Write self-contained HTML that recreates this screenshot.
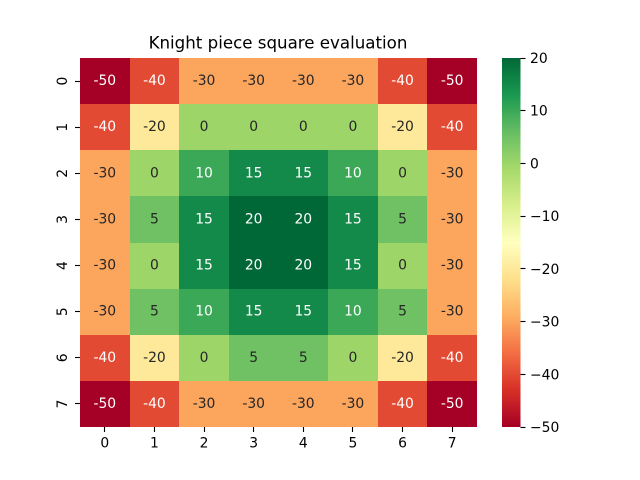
<!DOCTYPE html>
<html>
<head>
<meta charset="utf-8">
<title>Knight piece square evaluation</title>
<style>
html,body{margin:0;padding:0;background:#fff;}
#chart{display:block;font-family:"DejaVu Sans","Liberation Sans",sans-serif;}
text{fill:#000;font-size:13.89px;}
</style>
</head>
<body>
<svg id="chart" xmlns="http://www.w3.org/2000/svg" width="640" height="480" viewBox="0 0 640 480">
  <rect x="0" y="0" width="640" height="480" fill="#ffffff"/>
  <text x="278" y="48.5" text-anchor="middle" style="font-size:16.67px">Knight piece square evaluation</text>
  <defs>
    <linearGradient id="cbGrad" x1="0" y1="1" x2="0" y2="0">
      <stop offset="0" stop-color="#a50026"/><stop offset="0.1" stop-color="#d73027"/>
      <stop offset="0.2" stop-color="#f46d43"/><stop offset="0.3" stop-color="#fdae61"/>
      <stop offset="0.4" stop-color="#fee08b"/><stop offset="0.5" stop-color="#ffffbf"/>
      <stop offset="0.6" stop-color="#d9ef8b"/><stop offset="0.7" stop-color="#a6d96a"/>
      <stop offset="0.8" stop-color="#66bd63"/><stop offset="0.9" stop-color="#1a9850"/>
      <stop offset="1" stop-color="#006837"/>
    </linearGradient>
  </defs>
  <g id="cells"></g>
  <g id="annotations"></g>
  <g id="x-axis"></g>
  <g id="y-axis"></g>
  <rect x="502" y="58" width="18.5" height="369" fill="url(#cbGrad)"/>
  <g id="cb-axis"></g>
</svg>
<script>
const rowLabels = ["0","1","2","3","4","5","6","7"];
const colLabels = ["0","1","2","3","4","5","6","7"];
const values = [
  [-50,-40,-30,-30,-30,-30,-40,-50],
  [-40,-20,0,0,0,0,-20,-40],
  [-30,0,10,15,15,10,0,-30],
  [-30,5,15,20,20,15,5,-30],
  [-30,0,15,20,20,15,0,-30],
  [-30,5,10,15,15,10,5,-30],
  [-40,-20,0,5,5,0,-20,-40],
  [-50,-40,-30,-30,-30,-30,-40,-50]
];
const colorbarTicks = [20,10,0,-10,-20,-30,-40,-50];
const vmin = -50;
const vmax = 20;

const NS = "http://www.w3.org/2000/svg";
const anchors = [[165,0,38],[215,48,39],[244,109,67],[253,174,97],[254,224,139],[255,255,191],[217,239,139],[166,217,106],[102,189,99],[26,152,80],[0,104,55]];
const plot = {left:80,right:477,top:58,bottom:427};
const cbar = {right:520.5,top:58,bottom:427};

function xBand(i){ return plot.left + i*(plot.right-plot.left)/colLabels.length; }
function yBand(i){ return plot.top + i*(plot.bottom-plot.top)/rowLabels.length; }
function cbY(v){ return cbar.bottom - (v-vmin)/(vmax-vmin)*(cbar.bottom-cbar.top); }
function colorOf(v){
  const t = Math.max(0,Math.min(1,(v-vmin)/(vmax-vmin)))*(anchors.length-1);
  const i = Math.min(anchors.length-2,Math.floor(t));
  const f = t-i;
  return anchors[i].map(function(c,k){ return c+(anchors[i+1][k]-c)*f; });
}
function luminance(rgb){
  const l = rgb.map(function(c){ c/=255; return c<=0.03928 ? c/12.92 : Math.pow((c+0.055)/1.055,2.4); });
  return 0.2126*l[0]+0.7152*l[1]+0.0722*l[2];
}
function make(tag,attrs,parent,txt){
  const el = document.createElementNS(NS,tag);
  Object.keys(attrs).forEach(function(k){ el.setAttribute(k,attrs[k]); });
  if(txt!==undefined) el.textContent = txt;
  parent.appendChild(el);
  return el;
}
const cellsG = document.getElementById("cells");
const annG = document.getElementById("annotations");
const xG = document.getElementById("x-axis");
const yG = document.getElementById("y-axis");
const cbG = document.getElementById("cb-axis");

values.forEach(function(row,r){
  row.forEach(function(v,c){
    const rgb = colorOf(v);
    const fill = "rgb("+rgb.map(Math.round).join(",")+")";
    const x0 = Math.round(xBand(c)), x1 = Math.round(xBand(c+1));
    const y0 = Math.round(yBand(r)), y1 = Math.round(yBand(r+1));
    const cell = make("rect",{x:x0,y:y0,width:x1-x0,height:y1-y0,fill:fill,"shape-rendering":"crispEdges"},cellsG);
    
    
    const cx = (xBand(c)+xBand(c+1))/2;
    const cy = (yBand(r)+yBand(r+1))/2;
    const label = make("text",{x:cx,y:cy+4,"text-anchor":"middle",style:"fill:"+(luminance(rgb)<0.408?"#ffffff":"#262626")},annG,String(v));
    
    
  });
});

colLabels.forEach(function(lab,i){
  const x = Math.round((xBand(i)+xBand(i+1))/2-0.5)+0.5;
  const tick = make("line",{x1:x,x2:x,y1:427,y2:432,stroke:"#000","stroke-width":1.1},xG);
  
  
  const t = make("text",{x:(xBand(i)+xBand(i+1))/2,y:447.5,"text-anchor":"middle"},xG,lab);
  
  
});

rowLabels.forEach(function(lab,i){
  const cy = (yBand(i)+yBand(i+1))/2;
  const y = Math.round(cy-0.5)+0.5;
  const tick = make("line",{x1:75,x2:80,y1:y,y2:y,stroke:"#000","stroke-width":1.1},yG);
  
  
  const t = make("text",{x:0,y:0,"text-anchor":"middle",transform:"translate(67 "+cy+") rotate(-90)"},yG,lab);
  
  
});

colorbarTicks.forEach(function(v){
  const cy = cbY(v);
  const y = Math.round(cy-0.5)+0.5;
  const tick = make("line",{x1:520.5,x2:525.5,y1:y,y2:y,stroke:"#000","stroke-width":1.1},cbG);
  
  
  const t = make("text",{x:530,y:cy+5},cbG,String(v).replace("-","\u2212"));
  
  
});
</script>
</body>
</html>
